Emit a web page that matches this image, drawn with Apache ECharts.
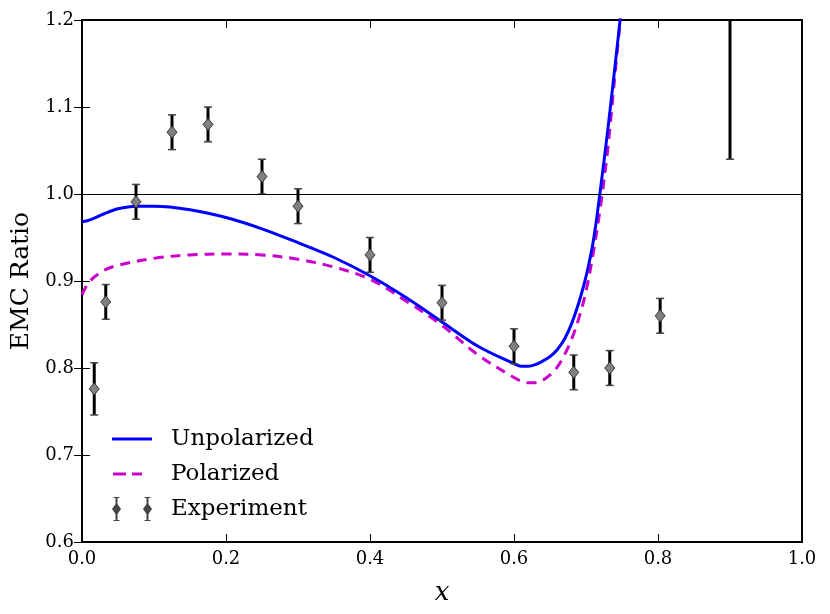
<!DOCTYPE html>
<html>
<head>
<meta charset="utf-8">
<script src="https://cdn.jsdelivr.net/npm/echarts@6/dist/echarts.min.js"></script>
<style>
  html, body { margin: 0; padding: 0; background: #fff; }
  #chart { width: 830px; height: 614px; }
</style>
</head>
<body>
<div id="chart"></div>
<script>
// model curves
var unpolX = [0, 0.01, 0.03, 0.05, 0.075, 0.1, 0.15, 0.2, 0.25, 0.3, 0.35, 0.4, 0.45, 0.5, 0.55, 0.6, 0.61, 0.62, 0.63, 0.64, 0.65, 0.66, 0.67, 0.68, 0.69, 0.70, 0.71, 0.72, 0.73, 0.74, 0.75];
var unpolY = [0.968, 0.970, 0.977, 0.983, 0.986, 0.986, 0.982, 0.973, 0.960, 0.944, 0.927, 0.906, 0.881, 0.853, 0.825, 0.805, 0.802, 0.802, 0.804, 0.808, 0.813, 0.821, 0.833, 0.851, 0.875, 0.905, 0.945, 1.005, 1.072, 1.145, 1.22];
var polX = [0, 0.01, 0.03, 0.05, 0.1, 0.15, 0.2, 0.25, 0.3, 0.35, 0.4, 0.45, 0.5, 0.55, 0.6, 0.61, 0.62, 0.63, 0.64, 0.65, 0.66, 0.67, 0.68, 0.69, 0.70, 0.71, 0.72, 0.73, 0.74, 0.75];
var polY = [0.884, 0.899, 0.912, 0.918, 0.926, 0.930, 0.931, 0.930, 0.925, 0.916, 0.902, 0.877, 0.849, 0.815, 0.789, 0.785, 0.783, 0.783, 0.786, 0.792, 0.801, 0.815, 0.833, 0.857, 0.888, 0.932, 0.985, 1.05, 1.135, 1.22];

// experiment points
var expX = [0.017, 0.033, 0.075, 0.125, 0.175, 0.25, 0.30, 0.40, 0.50, 0.60, 0.683, 0.733, 0.803, 0.90];
var expY = [0.776, 0.876, 0.991, 1.071, 1.080, 1.020, 0.986, 0.930, 0.875, 0.825, 0.795, 0.800, 0.860, 1.30];
var expErr = [0.030, 0.020, 0.020, 0.020, 0.020, 0.020, 0.020, 0.020, 0.020, 0.020, 0.020, 0.020, 0.020, 0.26];

var xTicks = [0, 0.2, 0.4, 0.6, 0.8, 1.0];
var yTicks = [0.6, 0.7, 0.8, 0.9, 1.0, 1.1, 1.2];

function zip(a, b) {
  var out = [];
  for (var i = 0; i < a.length; i++) out.push([a[i], b[i]]);
  return out;
}

var expData = [];
for (var i = 0; i < expX.length; i++) {
  expData.push([expX[i], expY[i], expErr[i]]);
}

var font = 'DejaVu Serif';
var chart = echarts.init(document.getElementById('chart'));

function renderErr(params, api) {
  var x = api.value(0), y = api.value(1), e = api.value(2);
  var top = api.coord([x, y + e]);
  var bot = api.coord([x, y - e]);
  var c = api.coord([x, y]);
  var cap = 4;
  return {
    type: 'group',
    children: [
      { type: 'line', shape: { x1: top[0], y1: top[1], x2: bot[0], y2: bot[1] },
        style: { stroke: '#000', lineWidth: 3 } },
      { type: 'line', shape: { x1: top[0] - cap, y1: top[1], x2: top[0] + cap, y2: top[1] },
        style: { stroke: '#444', lineWidth: 1.5 } },
      { type: 'line', shape: { x1: bot[0] - cap, y1: bot[1], x2: bot[0] + cap, y2: bot[1] },
        style: { stroke: '#444', lineWidth: 1.5 } },
      { type: 'polygon', shape: { points: [[c[0], c[1] - 6], [c[0] + 5, c[1]], [c[0], c[1] + 6], [c[0] - 5, c[1]]] },
        style: { fill: '#808080', stroke: '#333', lineWidth: 1 } }
    ]
  };
}

// legend icons, drawn in a 40x24 box
var unpolIcon = 'path://M0,10.5L40,10.5L40,13.5L0,13.5Z';
var polIcon = 'path://M1,10.5L14,10.5L14,13.5L1,13.5Z M20,10.5L30,10.5L30,13.5L20,13.5Z M0,0L0.01,0Z M40,24L40.01,24Z';
var expIcon = 'path://M1,0L7,0L7,1L5,1L5,7L8.5,12L5,17L5,23L7,23L7,24L1,24L1,23L3,23L3,17L-0.5,12L3,7L3,1L1,1Z' +
  'M32,0L38,0L38,1L36,1L36,7L39.5,12L36,17L36,23L38,23L38,24L32,24L32,23L34,23L34,17L30.5,12L34,7L34,1L32,1Z';

var tickFmt = function (v) { return v.toFixed(1); };

var option = {
  backgroundColor: '#fff',
  animation: false,
  grid: {
    left: 82, right: 28, top: 20, bottom: 72,
    containLabel: false, outerBoundsMode: 'none',
    show: true, borderColor: '#000', borderWidth: 2
  },
  legend: {
    orient: 'vertical',
    left: 107,
    top: 422,
    itemWidth: 40,
    itemHeight: 24,
    itemGap: 11,
    textStyle: { fontFamily: font, fontSize: 23, color: '#000', padding: [0, 0, 0, 14], lineHeight: 24 },
    data: [
      { name: 'Unpolarized', icon: unpolIcon, itemStyle: { color: '#0000ff' } },
      { name: 'Polarized', icon: polIcon, itemStyle: { color: '#cc00cc' } },
      { name: 'Experiment', icon: expIcon, itemStyle: { color: '#444' } }
    ]
  },
  xAxis: [{
    type: 'value', min: 0, max: 1, interval: 0.2,
    name: 'x', nameLocation: 'middle', nameGap: 38,
    nameTextStyle: { fontFamily: font, fontSize: 26, fontStyle: 'italic', color: '#000' },
    axisLine: { show: false },
    axisTick: { inside: true, length: 8, lineStyle: { color: '#000', width: 1 } },
    axisLabel: { fontFamily: font, fontSize: 18, color: '#000', margin: 8, formatter: tickFmt },
    splitLine: { show: false }
  }, {
    type: 'value', min: 0, max: 1, interval: 0.2, position: 'top',
    axisLine: { show: false },
    axisTick: { inside: true, length: 8, lineStyle: { color: '#000', width: 1 } },
    axisLabel: { show: false },
    splitLine: { show: false }
  }],
  yAxis: [{
    type: 'value', min: 0.6, max: 1.2, interval: 0.1,
    name: 'EMC Ratio', nameLocation: 'middle', nameGap: 47, nameRotate: 90,
    nameTextStyle: { fontFamily: font, fontSize: 25, color: '#000' },
    axisLine: { show: false },
    axisTick: { inside: true, length: 8, lineStyle: { color: '#000', width: 1 } },
    axisLabel: { fontFamily: font, fontSize: 18, color: '#000', margin: 8, formatter: tickFmt },
    splitLine: { show: false }
  }, {
    type: 'value', min: 0.6, max: 1.2, interval: 0.1, position: 'right',
    axisLine: { show: false },
    axisTick: { inside: true, length: 8, lineStyle: { color: '#000', width: 1 } },
    axisLabel: { show: false },
    splitLine: { show: false }
  }],
  series: [
    {
      name: 'Unpolarized', type: 'line', data: zip(unpolX, unpolY),
      smooth: 0.35, symbol: 'none', clip: true,
      lineStyle: { color: '#0000ff', width: 3 }, itemStyle: { color: '#0000ff' },
      markLine: {
        silent: true, symbol: 'none', label: { show: false },
        lineStyle: { color: '#000', width: 1.2, type: 'solid' },
        data: [{ yAxis: 1.0 }]
      },
      z: 3
    },
    {
      name: 'Polarized', type: 'line', data: zip(polX, polY),
      smooth: 0.35, symbol: 'none', clip: true,
      lineStyle: { color: '#cc00cc', width: 3, type: [10, 7] }, itemStyle: { color: '#cc00cc' },
      z: 2
    },
    {
      name: 'Experiment', type: 'custom', data: expData, clip: true,
      renderItem: renderErr, itemStyle: { color: '#444' },
      encode: { x: 0, y: 1 },
      z: 4
    }
  ]
};

chart.setOption(option);
</script>
</body>
</html>
